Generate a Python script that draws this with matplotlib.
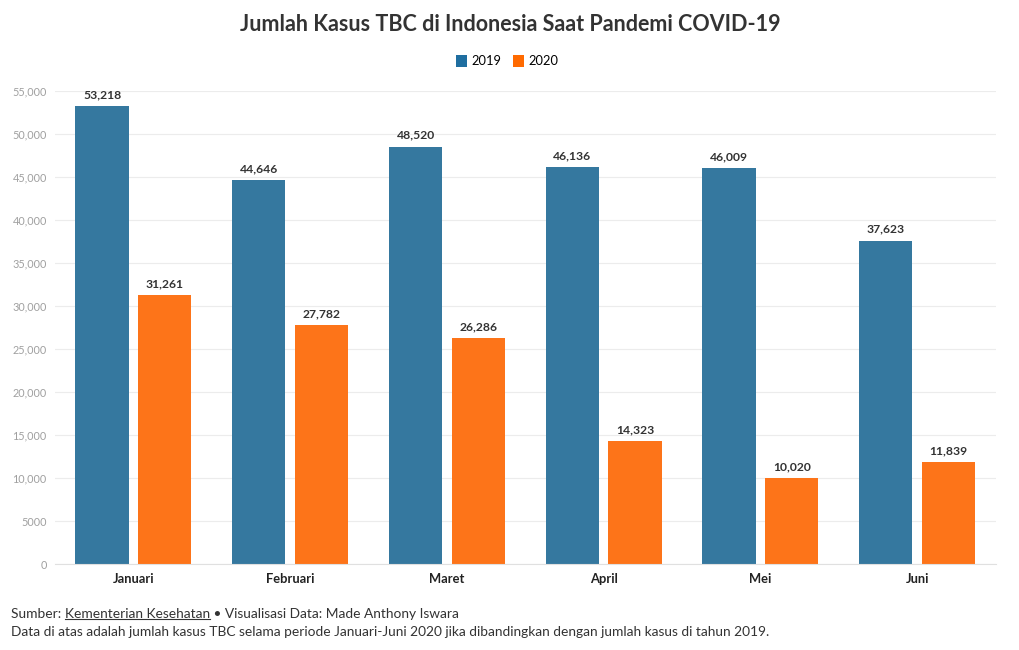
import matplotlib.pyplot as plt
import numpy as np
from matplotlib.patches import Patch

bulan = ['Januari', 'Februari', 'Maret', 'April', 'Mei', 'Juni']
kasus_2019 = [53218, 44646, 48520, 46136, 46009, 37623]
kasus_2020 = [31261, 27782, 26286, 14323, 10020, 11839]
yticks = [0, 5000, 10000, 15000, 20000, 25000, 30000, 35000, 40000, 45000, 50000, 55000]
ylabels = ['0', '5000', '10,000', '15,000', '20,000', '25,000', '30,000',
           '35,000', '40,000', '45,000', '50,000', '55,000']

plt.rcParams['font.family'] = ['Lato', 'DejaVu Sans']

biru = '#35789f'
oranye = '#fd7419'
teks = '#333333'

fig = plt.figure(figsize=(10.2, 6.5), dpi=100)
ax = fig.add_axes([0.054, 0.132, 0.922, 0.728])

x = np.arange(len(bulan))
w = 0.34
b1 = ax.bar(x - 0.2, kasus_2019, w, color=biru)
b2 = ax.bar(x + 0.2, kasus_2020, w, color=oranye)

for bars in (b1, b2):
    for b in bars:
        ax.text(b.get_x() + b.get_width() / 2, b.get_height() + 700,
                '{:,}'.format(int(b.get_height())), ha='center', va='bottom',
                fontsize=8.7, fontweight='bold', color=teks)

ax.set_xlim(-0.5, 5.5)
ax.set_ylim(0, 55000)
ax.set_yticks(yticks)
ax.set_yticklabels(ylabels, fontsize=7.8, color='#a0a0a0')
ax.set_xticks(x)
ax.set_xticklabels(bulan, fontsize=9.3, fontweight='bold', color='#222222')
ax.tick_params(axis='both', length=0, pad=6)
ax.grid(axis='y', color='#ececec', linewidth=0.8)
ax.set_axisbelow(True)
for s in ['top', 'right', 'left']:
    ax.spines[s].set_visible(False)
ax.spines['bottom'].set_color('#e0e0e0')

fig.text(0.5, 0.962, 'Jumlah Kasus TBC di Indonesia Saat Pandemi COVID-19',
         ha='center', va='center', fontsize=15.5, fontweight='bold', color=teks)

handles = [Patch(facecolor='#1f6ea0', label='2019'), Patch(facecolor='#ff6a00', label='2020')]
fig.legend(handles=handles, loc='center', bbox_to_anchor=(0.497, 0.906), ncol=2,
           frameon=False, fontsize=9.3, handlelength=0.9, handleheight=1.1,
           handletextpad=0.3, columnspacing=0.9)

fs = 9.9
y1 = 0.056
fig.text(0.011, 0.028,
         'Data di atas adalah jumlah kasus TBC selama periode Januari-Juni 2020 jika dibandingkan dengan jumlah kasus di tahun 2019.',
         fontsize=fs, color=teks, va='center')
t0 = fig.text(0.011, y1, 'Sumber: ', fontsize=fs, color=teks, va='center')

fig.canvas.draw()
r = fig.canvas.get_renderer()
W, H = fig.bbox.width, fig.bbox.height
bb = t0.get_window_extent(r)
t2 = fig.text(bb.x1 / W, y1, 'Kementerian Kesehatan', fontsize=fs, color=teks, va='center')
bb2 = t2.get_window_extent(r)
fig.add_artist(plt.Line2D([bb2.x0 / W, bb2.x1 / W], [(bb2.y0 + 1) / H] * 2,
                          transform=fig.transFigure, color=teks, linewidth=0.8))
fig.text(bb2.x1 / W, y1, ' \u2022 Visualisasi Data: Made Anthony Iswara',
         fontsize=fs, color=teks, va='center')

fig.savefig('out.png', dpi=100)
